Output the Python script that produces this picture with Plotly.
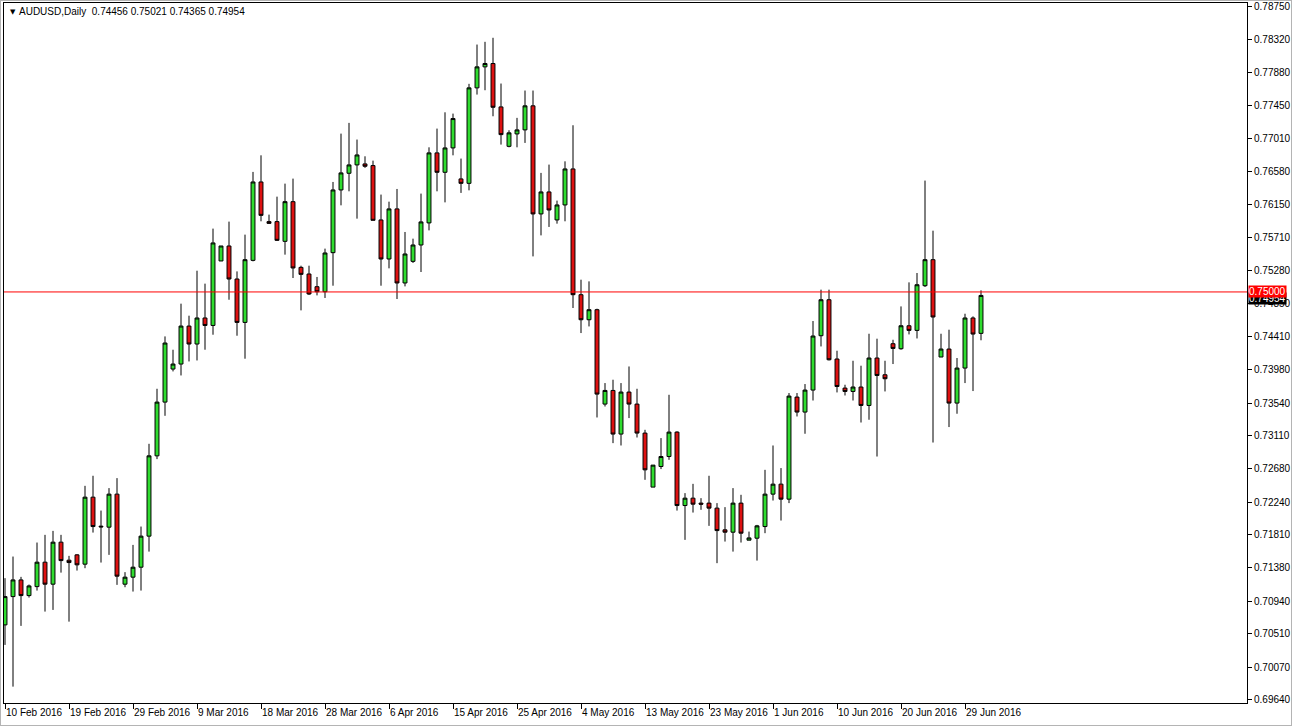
import pandas as pd
import plotly.graph_objects as go

# Daily bars (broker feed with Sunday sessions), 10 Feb 2016 - 1 Jul 2016
start_date = "2016-02-10"
n_bars = 123

open_ = [0.70626,0.70998,0.71217,0.71011,0.71129,0.71450,0.71161,0.71713,0.71476,0.71546,
         0.71424,0.72304,0.71923,0.71910,0.72344,0.71161,0.71253,0.71384,0.71792,0.72847,
         0.73553,0.73987,0.74053,0.74552,0.74316,0.74658,0.74560,0.75407,0.75604,0.75170,
         0.74600,0.75415,0.76445,0.75924,0.75924,0.75665,0.76186,0.75323,0.75236,0.75069,
         0.75003,0.75516,0.76340,0.76559,0.76669,0.76682,0.76660,0.75946,0.75433,0.76091,
         0.75118,0.75402,0.75617,0.75907,0.76827,0.76572,0.76892,0.76485,0.76427,0.77681,
         0.77957,0.78001,0.77431,0.76913,0.77076,0.77129,0.77445,0.76025,0.76314,0.75946,
         0.76143,0.76616,0.74964,0.74635,0.74767,0.73527,0.73706,0.73133,0.73685,0.73527,
         0.73146,0.72436,0.72707,0.72838,0.73159,0.72194,0.72291,0.72226,0.72226,0.72160,
         0.71875,0.71844,0.72226,0.71739,0.71765,0.71918,0.72344,0.72475,0.72278,0.73619,
         0.73422,0.73711,0.74425,0.74898,0.74119,0.73737,0.73693,0.73751,0.73509,0.74132,
         0.73912,0.74320,0.74254,0.74556,0.74495,0.75082,0.75424,0.74145,0.74250,0.73540,
         0.74000,0.74658,0.74456]
high = [0.71240,0.71524,0.71257,0.71156,0.71708,0.71809,0.71861,0.71809,0.71533,0.71555,
        0.72453,0.72585,0.72128,0.72423,0.72554,0.71319,0.71677,0.71918,0.73005,0.73728,
        0.74416,0.74241,0.74846,0.74688,0.75279,0.75109,0.75832,0.75604,0.75924,0.75270,
        0.75753,0.76577,0.76795,0.76016,0.76252,0.76423,0.76489,0.75345,0.75345,0.75197,
        0.75569,0.76445,0.77080,0.77221,0.77002,0.76782,0.76725,0.76279,0.76186,0.76353,
        0.75788,0.75700,0.76292,0.76900,0.77146,0.77360,0.77343,0.76752,0.77734,0.78250,
        0.78286,0.78339,0.77738,0.77124,0.77287,0.77646,0.77646,0.76564,0.76673,0.76200,
        0.76716,0.77190,0.75161,0.75139,0.74780,0.73803,0.73847,0.73803,0.74021,0.73728,
        0.73189,0.72725,0.73080,0.73649,0.73170,0.72357,0.72479,0.72291,0.72585,0.72226,
        0.72173,0.72423,0.72335,0.71852,0.71940,0.72663,0.72983,0.72686,0.73672,0.73672,
        0.73790,0.74618,0.75030,0.75030,0.74228,0.73781,0.74096,0.74031,0.74451,0.74386,
        0.74096,0.74372,0.74810,0.75126,0.75249,0.76463,0.75805,0.74451,0.74504,0.74132,
        0.74714,0.74679,0.75021]
low = [0.70363,0.69815,0.70613,0.70985,0.71077,0.70801,0.70823,0.71313,0.70669,0.71340,
       0.71371,0.71839,0.71445,0.71546,0.71152,0.71121,0.71064,0.71077,0.71589,0.72804,
       0.73373,0.73956,0.73903,0.74087,0.74100,0.74241,0.74438,0.75407,0.74898,0.74425,
       0.74123,0.75402,0.75928,0.75893,0.75670,0.75490,0.75183,0.74758,0.74960,0.74955,
       0.74921,0.75082,0.76138,0.76322,0.75963,0.76630,0.75941,0.75082,0.75310,0.74907,
       0.75073,0.75381,0.75262,0.75809,0.76322,0.76177,0.76795,0.76301,0.76335,0.77593,
       0.77650,0.77308,0.76936,0.76900,0.76900,0.76958,0.75467,0.75743,0.75854,0.75897,
       0.75928,0.74789,0.74460,0.74547,0.73351,0.73495,0.73014,0.72983,0.73343,0.73088,
       0.72532,0.72436,0.72673,0.72795,0.72128,0.71743,0.72102,0.72138,0.71927,0.71437,
       0.71721,0.71589,0.71708,0.71739,0.71471,0.71831,0.72260,0.71997,0.72226,0.73364,
       0.73137,0.73574,0.74284,0.74100,0.73680,0.73640,0.73574,0.73285,0.73321,0.72838,
       0.73693,0.74053,0.74241,0.74442,0.74389,0.75065,0.73022,0.74145,0.73225,0.73400,
       0.73803,0.73698,0.74365]
close = [0.70998,0.71217,0.71011,0.71138,0.71450,0.71161,0.71713,0.71471,0.71445,0.71415,
         0.72304,0.71918,0.71914,0.72344,0.71266,0.71253,0.71384,0.71792,0.72847,0.73553,
         0.74329,0.74053,0.74552,0.74316,0.74658,0.74560,0.75644,0.75604,0.75170,0.74600,
         0.75424,0.76445,0.76006,0.75901,0.75678,0.76186,0.75315,0.75231,0.74973,0.75003,
         0.75512,0.76340,0.76564,0.76669,0.76800,0.76651,0.75941,0.75433,0.76091,0.75118,
         0.75499,0.75617,0.75920,0.76827,0.76572,0.76892,0.77278,0.76427,0.77681,0.77957,
         0.78001,0.77426,0.77067,0.77090,0.77129,0.77445,0.76025,0.76314,0.76077,0.76143,
         0.76616,0.74964,0.74635,0.74767,0.73658,0.73706,0.73133,0.73685,0.73527,0.73146,
         0.72663,0.72725,0.72838,0.73159,0.72194,0.72291,0.72212,0.72212,0.72160,0.71865,
         0.71844,0.72226,0.71831,0.71769,0.71927,0.72344,0.72475,0.72278,0.73632,0.73422,
         0.73711,0.74421,0.74898,0.74109,0.73758,0.73693,0.73751,0.73509,0.74132,0.73903,
         0.73860,0.74258,0.74556,0.74495,0.75095,0.75424,0.74671,0.74250,0.73540,0.74000,
         0.74658,0.74447,0.74954]

price_ticks = [0.78750,0.78320,0.77880,0.77450,0.77010,0.76580,0.76150,0.75710,0.75280,0.74850,
               0.74410,0.73980,0.73540,0.73110,0.72680,0.72240,0.71810,0.71380,0.70940,0.70510,
               0.70070,0.69640]
level_line = 0.75000
header_text = "AUDUSD,Daily  0.74456 0.75021 0.74365 0.74954"

dates = pd.bdate_range(start_date, periods=n_bars, freq="C",
                       weekmask="Sun Mon Tue Wed Thu Fri")
xcat = [d.strftime("%Y-%m-%d") for d in dates]
tick_idx = list(range(0, n_bars, 8))
tickvals = [xcat[i] for i in tick_idx]
ticktext = [f"{dates[i].day} {dates[i].strftime('%b %Y')}" for i in tick_idx]

FONT = "Liberation Sans, Arial, sans-serif"
W, H = 1292, 726
ML, MR, MT, MB = 4, 45, 3, 23
PW, PH = W - ML - MR, H - MT - MB

fig = go.Figure(go.Candlestick(
    x=xcat, open=open_, high=high, low=low, close=close,
    increasing=dict(fillcolor="#2fdc2f", line=dict(color="#000000", width=1)),
    decreasing=dict(fillcolor="#dd1111", line=dict(color="#000000", width=1)),
    whiskerwidth=0, hoverinfo="x+y", showlegend=False,
))

fig.add_shape(type="line", xref="x domain", x0=0, x1=1, yref="y",
              y0=level_line, y1=level_line, line=dict(color="#ff0000", width=1))
# thin grey window frame around the whole chart
fig.add_shape(type="rect", xref="paper", yref="paper",
              x0=-ML / PW, x1=1 + MR / PW, y0=-MB / PH, y1=1 + MT / PH,
              line=dict(color="#b4b4b4", width=2), fillcolor="rgba(0,0,0,0)", layer="above")

fig.update_layout(
    width=W, height=H,
    margin=dict(l=ML, r=MR, t=MT, b=MB, autoexpand=False),
    paper_bgcolor="#ffffff", plot_bgcolor="#ffffff",
    boxgap=0.3,
    font=dict(family=FONT, size=10, color="#000000"),
    xaxis=dict(type="category", rangeslider=dict(visible=False), automargin=False,
               range=[-0.125, 155.25], tickvals=tickvals, ticktext=ticktext,
               tickangle=0,
               ticklabelposition="outside right", ticks="outside", ticklen=5,
               tickcolor="#000000", showline=True, linecolor="#000000", linewidth=1,
               mirror=True, showgrid=False, zeroline=False,
               tickfont=dict(family=FONT, size=10)),
    yaxis=dict(side="right", range=[0.69600, 0.78796], tickvals=price_ticks, automargin=False,
               ticktext=[f"{v:.5f}" for v in price_ticks], ticks="outside", ticklen=4,
               tickcolor="#000000", showline=True, linecolor="#000000", linewidth=1,
               mirror=True, showgrid=False, zeroline=False,
               tickfont=dict(family=FONT, size=10)),
)

fig.add_annotation(xref="paper", yref="y", x=1, y=close[-1], xanchor="left", yanchor="middle",
                   xshift=1, yshift=-3, text=f"{close[-1]:.5f}", showarrow=False,
                   bgcolor="#000000", font=dict(color="#ffffff", size=10, family=FONT),
                   borderpad=0)
fig.add_annotation(xref="paper", yref="y", x=1, y=level_line, xanchor="left", yanchor="middle",
                   xshift=1, text=f"{level_line:.5f}", showarrow=False,
                   bgcolor="#ff0000", font=dict(color="#ffffff", size=10, family=FONT),
                   borderpad=0)
fig.add_annotation(xref="paper", yref="paper", x=0, y=1, xanchor="left", yanchor="top",
                   xshift=4, yshift=-3, text="▼", showarrow=False,
                   font=dict(size=7, color="#000000", family="DejaVu Sans"))
fig.add_annotation(xref="paper", yref="paper", x=0, y=1, xanchor="left", yanchor="top",
                   xshift=13, yshift=-1, text=header_text, showarrow=False,
                   font=dict(size=10, color="#000000", family=FONT))

fig.write_html("out.html", config={"displayModeBar": False},
               post_script="document.body.style.margin='0';")
